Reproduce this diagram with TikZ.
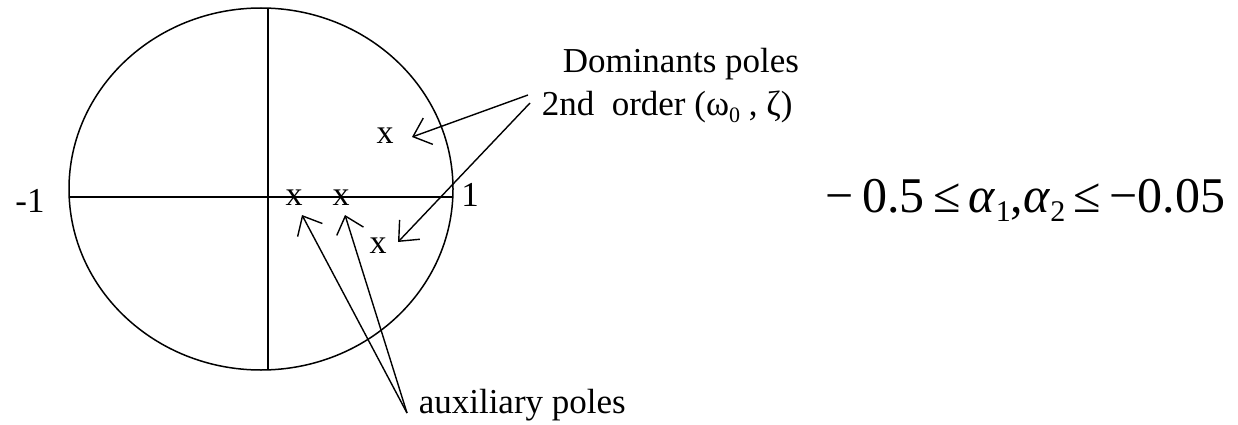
\documentclass[tikz,border=0pt]{standalone}
\usepackage{fontspec}
\setmainfont{Liberation Serif}
\usetikzlibrary{arrows.meta,calc}
\newcommand\lowsub[1]{\raisebox{-0.4ex}{\fontsize{22}{22}\selectfont #1}}
\begin{document}
\begin{tikzpicture}[x=1pt,y=-1pt,
  line width=1.5pt,
  lbl/.style={font=\fontsize{35}{42}\selectfont, inner sep=0pt},
  pole/.style={font=\fontsize{34}{40}\selectfont, inner sep=0pt},
  formula/.style={font=\fontsize{50}{56}\selectfont, inner sep=0pt},
  arr/.style={line width=1.4pt, -{Straight Barb[length=16pt,width=28pt,line width=1.4pt]}}]
\useasboundingbox (0,0) rectangle (1238,425);
% unit circle (slightly elliptic in the reference)
\draw (261,189) ellipse [x radius=192, y radius=181];
\draw (268,8) -- (268,370);
\draw (69,197) -- (453,197);
% axis labels
\node[lbl, anchor=base] (m1) at (30,212) {-1};
\node[lbl, anchor=base] (p1lab) at (470,206) {1};
% poles
\node[pole] (pa) at (385,136) {x};
\node[pole] (pb) at (294,198) {x};
\node[pole] (pc) at (341,198) {x};
\node[pole] (pd) at (378,246) {x};
% labels
\node[lbl, anchor=base west] (dom1) at (562,73) {Dominants poles};
\node[lbl, anchor=base west] (dom2) at (541,116) {2nd\ \ order (ω\lowsub{0} , ζ)};
\node[lbl, anchor=base west] (aux) at (418,413) {auxiliary poles};
\coordinate (d1) at ($(dom2.base west)+(-13,-21)$);
\coordinate (d2) at ($(dom2.base west)+(-11,-13)$);
\coordinate (a0) at ($(aux.base west)+(-11,0)$);
% arrows
\draw[arr] (d1) -- ($(pa)+(27,1)$);
\draw[arr] (d2) -- ($(pd)+(20,-4)$);
\draw[arr] (a0) -- ($(pb)+(8,17)$);
\draw[arr] (a0) -- ($(pc)+(4,17)$);
% formula
\node[formula, anchor=base east] (f) at (1226,212)
  {−\,0.5\,≤\,\textit{α}\lowsub{\fontsize{30}{30}\selectfont 1},\textit{α}\lowsub{\fontsize{30}{30}\selectfont 2}\,≤\,−0.05};
\end{tikzpicture}
\end{document}
